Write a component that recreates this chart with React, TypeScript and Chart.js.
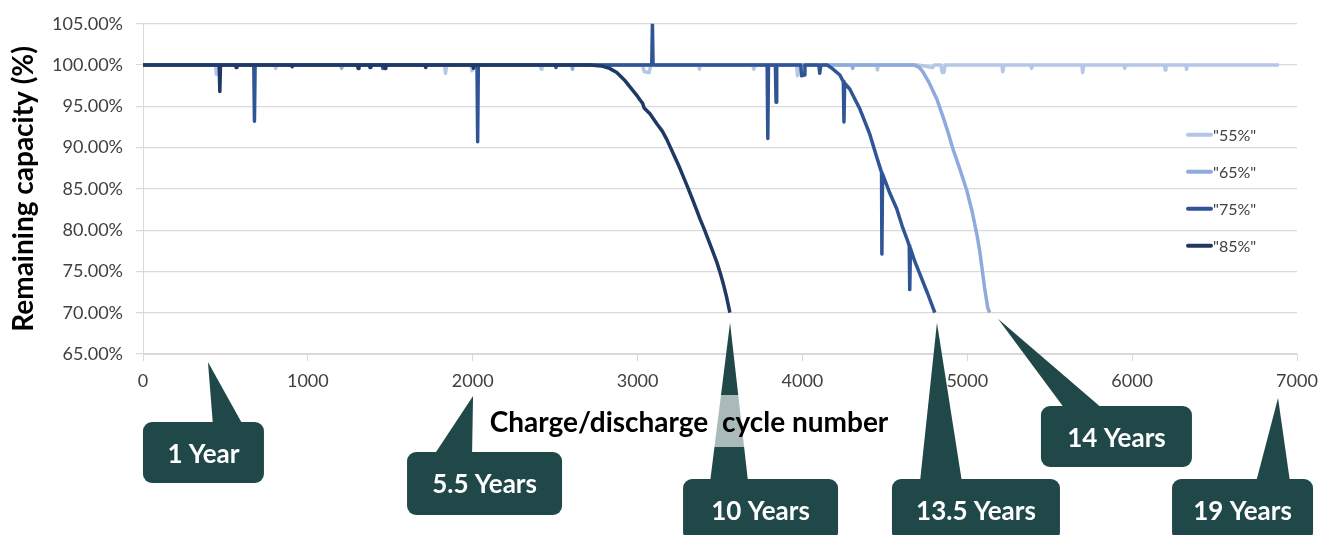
import React, { useEffect, useRef } from "react";
import { Chart, registerables } from "chart.js";

Chart.register(...registerables);

const FONT = "Lato, 'Open Sans', sans-serif";

// ---------- data ----------
const seriesLabels = ['"55%"', '"65%"', '"75%"', '"85%"'];
const seriesColors = ["#b4c7e7", "#8faadc", "#2f5597", "#1f3864"];

// [cycle number, remaining capacity %]
const series55: [number, number][] = [
  [0, 100], [440, 100], [445, 98.9], [452, 100], [800, 100], [805, 99.6], [810, 100],
  [1830, 100], [1835, 99.0], [1842, 100], [1990, 100], [1995, 99.3], [2000, 100],
  [2410, 100], [2415, 99.5], [2420, 100], [3030, 100], [3040, 99.2], [3070, 99.1], [3080, 100],
  [3370, 100], [3375, 99.5], [3380, 100], [3700, 100], [3705, 99.5], [3710, 100],
  [3965, 100], [3970, 98.7], [3977, 100], [4450, 100], [4455, 99.4], [4460, 100],
  [4700, 100], [4790, 99.7], [4800, 100], [4840, 100], [4848, 99.1], [4858, 99.1], [4866, 100],
  [5210, 100], [5215, 99.2], [5222, 100], [5385, 100], [5390, 99.6], [5395, 100],
  [5695, 100], [5700, 99.1], [5707, 100], [5950, 100], [5955, 99.6], [5960, 100],
  [6195, 100], [6200, 99.4], [6205, 100], [6325, 100], [6330, 99.5], [6335, 100], [6890, 100],
];

const series65: [number, number][] = [
  [0, 100], [1200, 100], [1205, 99.6], [1210, 100], [2600, 100], [2605, 99.5], [2610, 100],
  [4300, 100], [4305, 99.6], [4310, 100], [4680, 100], [4710, 99.7], [4730, 99.2],
  [4770, 97.8], [4815, 95.9], [4860, 93.3], [4890, 91.4], [4912, 89.9], [4955, 87.4],
  [4997, 84.8], [5030, 82.2], [5058, 79.5], [5075, 77.5], [5088, 75.6], [5105, 73.0],
  [5124, 70.6], [5136, 70.0],
];

const series75: [number, number][] = [
  [0, 100], [672, 100], [676, 93.2], [680, 100], [1450, 100], [1455, 99.6], [1460, 100],
  [2026, 100], [2030, 90.7], [2034, 100], [2500, 100], [2505, 99.7], [2510, 100],
  [3086, 100], [3090, 105], [3094, 100], [3786, 100], [3790, 91.1], [3794, 100],
  [3836, 100], [3840, 95.5], [3844, 100], [3990, 100], [3995, 98.7], [4010, 98.8], [4015, 100],
  [4100, 100], [4105, 99.0], [4112, 100], [4150, 100], [4180, 99.6], [4227, 98.8],
  [4248, 98.0], [4252, 93.1], [4256, 97.8], [4287, 97.1], [4320, 95.8], [4348, 94.7],
  [4380, 93.1], [4409, 91.6], [4450, 88.9], [4480, 87.0], [4482, 77.1], [4486, 86.8],
  [4530, 84.5], [4572, 82.6], [4605, 80.5], [4640, 78.6], [4648, 78.1], [4651, 72.8],
  [4655, 77.8], [4680, 76.3], [4712, 74.7], [4760, 72.3], [4803, 70.0],
];

const series85: [number, number][] = [
  [0, 100], [462, 100], [466, 96.8], [470, 100], [560, 100], [565, 99.7], [570, 100],
  [900, 100], [905, 99.8], [910, 100], [1300, 100], [1305, 99.6], [1310, 100],
  [1372, 100], [1377, 99.7], [1382, 100], [1463, 100], [1468, 99.6], [1473, 100],
  [1710, 100], [1715, 99.7], [1720, 100], [2000, 100], [2005, 99.6], [2010, 100],
  [2710, 100], [2780, 99.9], [2830, 99.6], [2874, 99.1], [2920, 98.2], [2960, 97.2],
  [3000, 96.2], [3014, 95.8], [3030, 95.4], [3040, 94.8], [3075, 94.1], [3120, 92.8],
  [3150, 92.0], [3177, 91.0], [3200, 90.0], [3225, 88.9], [3250, 87.8], [3275, 86.6],
  [3300, 85.4], [3330, 83.9], [3355, 82.6], [3378, 81.4], [3405, 80.1], [3430, 78.8],
  [3455, 77.5], [3481, 76.1], [3500, 74.9], [3520, 73.5], [3540, 71.9], [3560, 70.0],
];

const seriesData = [series55, series65, series75, series85];
const drawOrder = [3, 2, 1, 0];

const xTickValues = [0, 1000, 2000, 3000, 4000, 5000, 6000, 7000];
const yTickValues = [65, 70, 75, 80, 85, 90, 95, 100, 105];

const xTitle = "Charge/discharge  cycle number";
const yTitle = "Remaining capacity (%)";

// callouts: label, cycle the pointer marks, capacity at tip (null = below axis)
const calloutLabels = ["1 Year", "5.5 Years", "10 Years", "13.5 Years", "14 Years", "19 Years"];
const calloutCycles = [394, 2002, 3561, 4816, 5186, 6885];
const calloutTipCapacity: (number | null)[] = [null, null, 70, 70, 70, null];

// layout of callouts (pixels)
const calloutLayout = [
  { tipDy: 8, left: -65, top: 68, w: 121, h: 61, b0: 5, b1: 35 },
  { tipDy: 42, left: -66, top: 98, w: 155, h: 63, b0: -39, b1: -1 },
  { tipDy: 10, left: -47, top: 125, w: 155, h: 62, b0: -20, b1: 18 },
  { tipDy: 10, left: -45, top: 125, w: 168, h: 62, b0: -17, b1: 25 },
  { tipDy: 6, left: 43, top: 52, w: 151, h: 61, b0: 67, b1: 105 },
  { tipDy: 44, left: -106, top: 125, w: 141, h: 62, b0: -22, b1: 12 },
];

const CALLOUT_COLOR = "#204848";
const TEXT_GRAY = "#404040";
const GRID = "#d9d9d9";

export default function App() {
  const ref = useRef<HTMLCanvasElement>(null);

  useEffect(() => {
    document.body.style.margin = "0";
    const canvas = ref.current!;

    const overlay = {
      id: "overlay",
      afterDraw(chart: any) {
        const { ctx, chartArea: a, scales } = chart;
        const xs = scales.x;
        const ys = scales.y;
        ctx.save();

        // legend
        ctx.font = `16px ${FONT}`;
        ctx.textAlign = "left";
        ctx.textBaseline = "middle";
        seriesLabels.forEach((lab, i) => {
          const y = a.top + 111 + i * 37;
          const x0 = a.right - 110;
          ctx.strokeStyle = seriesColors[i];
          ctx.lineWidth = 4;
          ctx.lineCap = "round";
          ctx.beginPath();
          ctx.moveTo(x0 + 1, y);
          ctx.lineTo(x0 + 24, y);
          ctx.stroke();
          ctx.fillStyle = TEXT_GRAY;
          ctx.fillText(lab, x0 + 26, y + 1);
        });

        // callouts
        calloutLabels.forEach((lab, i) => {
          const L = calloutLayout[i];
          const tx = xs.getPixelForValue(calloutCycles[i]);
          const cap = calloutTipCapacity[i];
          const ty = (cap == null ? a.bottom : ys.getPixelForValue(cap)) + L.tipDy;
          const bx = tx + L.left;
          const by = a.bottom + L.top;
          ctx.fillStyle = CALLOUT_COLOR;
          ctx.beginPath();
          ctx.roundRect(bx, by, L.w, L.h, 9);
          ctx.fill();
          ctx.beginPath();
          ctx.moveTo(tx, ty);
          ctx.lineTo(tx + L.b0, by + 3);
          ctx.lineTo(tx + L.b1, by + 3);
          ctx.closePath();
          ctx.fill();
          ctx.fillStyle = "#ffffff";
          ctx.font = `bold 26px ${FONT}`;
          ctx.textAlign = "center";
          ctx.textBaseline = "alphabetic";
          ctx.fillText(lab, bx + L.w / 2, by + 40.5);
        });

        // x axis title with translucent backdrop
        ctx.font = `bold 28px ${FONT}`;
        const tw = ctx.measureText(xTitle).width;
        const cx = a.left + 546;
        ctx.fillStyle = "rgba(255,255,255,0.62)";
        ctx.fillRect(cx - tw / 2 - 4, a.bottom + 41, tw + 8, 52);
        ctx.fillStyle = "#000000";
        ctx.textAlign = "center";
        ctx.textBaseline = "alphabetic";
        ctx.fillText(xTitle, cx, a.bottom + 78);

        // y axis title
        ctx.translate(24, (a.top + a.bottom) / 2);
        ctx.rotate(-Math.PI / 2);
        ctx.textBaseline = "middle";
        ctx.fillText(yTitle, 0, 0);

        ctx.restore();
      },
    };

    const chart = new Chart(canvas, {
      type: "line",
      data: {
        datasets: seriesData.map((s, i) => ({
          label: seriesLabels[i],
          data: s.map(([x, y]) => ({ x, y })),
          borderColor: seriesColors[i],
          backgroundColor: seriesColors[i],
          borderWidth: 3.5,
          pointRadius: 0,
          tension: 0,
          order: drawOrder[i],
          borderJoinStyle: "round" as const,
        })),
      },
      options: {
        responsive: false,
        animation: false,
        devicePixelRatio: 1,
        layout: { padding: { left: 0, right: 36, top: 23, bottom: 0 } },
        plugins: {
          legend: { display: false },
          tooltip: { enabled: false },
          title: { display: false },
        },
        scales: {
          x: {
            type: "linear",
            min: 0,
            max: 7000,
            afterBuildTicks: (axis: any) => {
              axis.ticks = xTickValues.map((v) => ({ value: v }));
            },
            afterFit: (axis: any) => {
              axis.height = 181;
            },
            grid: { drawOnChartArea: false, drawTicks: true, tickLength: 7, color: GRID },
            border: { display: true, color: GRID, width: 1 },
            ticks: {
              autoSkip: false,
              maxRotation: 0,
              padding: 9,
              color: TEXT_GRAY,
              font: { family: FONT, size: 18 },
              callback: (v: any) => String(v),
            },
          },
          y: {
            type: "linear",
            min: 65,
            max: 105,
            afterBuildTicks: (axis: any) => {
              axis.ticks = yTickValues.map((v) => ({ value: v }));
            },
            afterFit: (axis: any) => {
              axis.width = 143;
            },
            grid: { color: GRID, tickLength: 7, lineWidth: 1.2 },
            border: { display: true, color: GRID, width: 1 },
            ticks: {
              padding: 13,
              color: TEXT_GRAY,
              font: { family: FONT, size: 18 },
              callback: (v: any) => Number(v).toFixed(2) + "%",
            },
          },
        },
      },
      plugins: [overlay],
    });

    return () => chart.destroy();
  }, []);

  return (
    <div style={{ width: 1333, height: 535 }}>
      <canvas ref={ref} width={1333} height={535} style={{ display: "block" }} />
    </div>
  );
}
